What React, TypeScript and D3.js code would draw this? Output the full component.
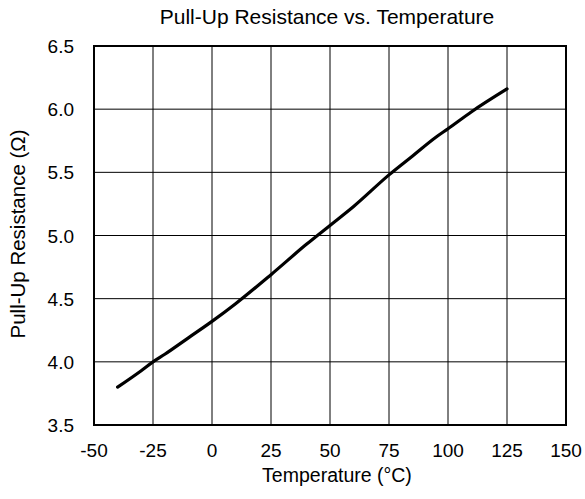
import * as d3 from 'd3';

// Pull-up resistance
const temperatures: number[] = [-40, -30, -25, -20, -10, 0, 10, 25, 40, 50, 60, 75, 85, 95, 100, 110, 125];
const resistance: number[] = [3.80, 3.93, 4.00, 4.06, 4.19, 4.32, 4.46, 4.69, 4.93, 5.08, 5.23, 5.48, 5.63, 5.78, 5.845, 5.98, 6.16];

const xTicks: number[] = [-50, -25, 0, 25, 50, 75, 100, 125, 150];
const yTicks: number[] = [3.5, 4.0, 4.5, 5.0, 5.5, 6.0, 6.5];

const title = 'Pull-Up Resistance vs. Temperature';
const xLabel = 'Temperature (°C)';
const yLabel = 'Pull-Up Resistance (Ω)';

export default function App() {
    const width = 585;
    const height = 499;
    const margin = { top: 46, right: 19, bottom: 74, left: 94 };
    const chartWidth = width - margin.left - margin.right;
    const chartHeight = height - margin.top - margin.bottom;

    const xScale = d3.scaleLinear().domain([-50, 150]).range([0, chartWidth]);
    const yScale = d3.scaleLinear().domain([3.5, 6.5]).range([chartHeight, 0]);

    const line = d3.line<number>()
        .x((_, i) => xScale(temperatures[i]))
        .y((d) => yScale(d))
        .curve(d3.curveMonotoneX);

    const font = 'Arial, "Liberation Sans", sans-serif';

    return (
        <svg
            width={width}
            height={height}
            style={{ position: 'absolute', left: 0, top: 0, background: 'white' }}
            fontFamily={font}
        >
            <text x={327} y={24} textAnchor="middle" fontSize={21} fill="#000">
                {title}
            </text>
            <g transform={`translate(${margin.left},${margin.top})`}>
                {xTicks.slice(1, -1).map((t) => (
                    <line key={'gx' + t} x1={xScale(t)} x2={xScale(t)} y1={0} y2={chartHeight} stroke="#000" strokeWidth={1} />
                ))}
                {yTicks.slice(1, -1).map((t) => (
                    <line key={'gy' + t} x1={0} x2={chartWidth} y1={yScale(t)} y2={yScale(t)} stroke="#000" strokeWidth={1} />
                ))}
                <rect x={0} y={0} width={chartWidth} height={chartHeight} fill="none" stroke="#000" strokeWidth={2} />
                <path d={line(resistance) || ''} fill="none" stroke="#000" strokeWidth={3.2} strokeLinecap="round" />
                {xTicks.map((t) => (
                    <text key={'tx' + t} x={xScale(t)} y={chartHeight + 32} textAnchor="middle" fontSize={19} fill="#000">
                        {t}
                    </text>
                ))}
                {yTicks.map((t) => (
                    <text key={'ty' + t} x={-20} y={yScale(t) + 7} textAnchor="end" fontSize={19} fill="#000">
                        {t.toFixed(1)}
                    </text>
                ))}
            </g>
            <text x={337} y={482} textAnchor="middle" fontSize={19.5} fill="#000">
                {xLabel}
            </text>
            <text
                transform={`translate(25,234) rotate(-90)`}
                textAnchor="middle"
                fontSize={20.5}
                fill="#000"
            >
                {yLabel}
            </text>
        </svg>
    );
}
